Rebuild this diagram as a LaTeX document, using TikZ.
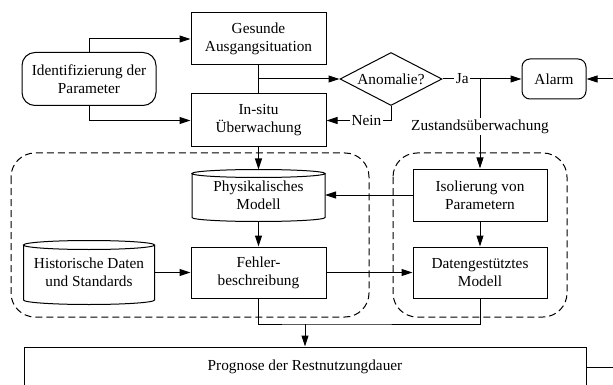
\documentclass[tikz,border=0pt]{standalone}
\usepackage{fontspec}
\setmainfont{Liberation Serif}
\newfontfamily\diagfont{Liberation Serif}
\usetikzlibrary{shapes.geometric,arrows.meta,calc}

% outline of a data store drawn round a plain node: node name, ellipse half-height
\newcommand\drumoutline[2]{%
  \draw let \p1=(#1.north west), \p2=(#1.south east), \n1={(\x2-\x1)/2} in
    (\x1,\y1-#2) -- (\x1,\y2+#2)
    arc[start angle=180, end angle=360, x radius=\n1, y radius=#2]
    -- (\x2,\y1-#2)
    ({(\x1+\x2)/2},\y1-#2) ellipse[x radius=\n1, y radius=#2];
}

\begin{document}
\begin{tikzpicture}[x=1pt,y=-1pt,
  line width=1pt,
  every node/.style={font=\diagfont\fontsize{15.3}{18}\selectfont, align=center, inner sep=0pt},
  box/.style={draw, rectangle},
  roundbox/.style={draw, rectangle, rounded corners=#1},
  query/.style={draw, diamond, aspect=1.92},
  drum/.style={rectangle},
  group/.style={draw, dash pattern=on 7pt off 4pt, rounded corners=24pt},
  arr/.style={-{Triangle[length=11pt,width=7pt]}},
  tag/.style={fill=white, inner sep=1.5pt}
]
\path[use as bounding box, clip] (0,0) rectangle (613,385);
\fill[white] (0,0) rectangle (613,385);

% dashed groupings
\draw[group] (11,153) rectangle (369,317);
\draw[group] (393,153) rectangle (567,317);

% blocks
\node[roundbox=13pt, minimum width=134, minimum height=53] (ident) at (89,79) {Identifizierung der\\Parameter};
\node[box, minimum width=135, minimum height=52] (gesund) at (258.5,39) {Gesunde\\Ausgangsituation};
\node[box, minimum width=135, minimum height=53] (insitu) at (258.5,120.5) {In-situ\\Überwachung};
\node[query, minimum width=102, minimum height=53] (anom) at (391,79) {Anomalie?};
\node[roundbox=8pt, minimum width=64, minimum height=40] (alarm) at (554,79) {Alarm};
\node[drum, minimum width=132, minimum height=51] (phys) at (258.5,195.5) {Physikalisches\\Modell};
\node[box, minimum width=135, minimum height=51] (fehler) at (258.5,272.5) {Fehler-\\beschreibung};
\node[drum, minimum width=130, minimum height=63] (hist) at (89,272.5) {Historische Daten\\und Standards};
\node[box, minimum width=134, minimum height=52] (isol) at (480,195) {Isolierung von\\Parametern};
\node[box, minimum width=134, minimum height=51] (daten) at (480,272.5) {Datengestütztes\\Modell};
\node[box, minimum width=562, minimum height=40] (prog) at (305,367) {Prognose der Restnutzungdauer};

\drumoutline{phys}{4pt}
\drumoutline{hist}{4.5pt}

% connectors
\draw[arr] (ident.north) |- (gesund.west);
\draw[arr] (ident.south) |- (insitu.west);
\draw (gesund.south) -- (insitu.north);
\draw[arr] (gesund.south |- anom.west) -- (anom.west);
\coordinate (fork) at (isol.north |- anom.east);
\draw[arr] (anom.east) -- node[tag, pos=0.25] {Ja} (alarm.west);
\draw[arr] (fork) -- node[tag, pos=0.53] {Zustandsüberwachung} (isol.north);
\draw[arr] (anom.south) |- node[tag, pos=0.69] {Nein} (insitu.east);
\draw[arr] (insitu.south) -- (phys.north);
\draw[arr] (phys.south) -- (fehler.north);
\draw[arr] (hist.east) -- (fehler.west);
\draw[arr] (isol.west) -- (isol.west -| phys.east);
\draw[arr] (isol.south) -- (daten.north);
\draw[arr] (fehler.east) -- (daten.west);
\coordinate (merge) at (305,324);
\draw (fehler.south) |- (merge) -| (daten.south);
\draw[arr] (merge) -- (merge |- prog.north);
\draw[arr] (prog.east) -- ++(40,0) |- (alarm.east);
\end{tikzpicture}
\end{document}
